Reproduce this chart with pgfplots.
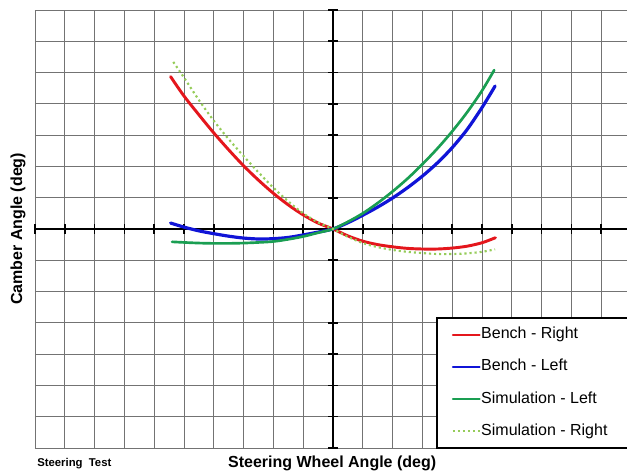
\documentclass[border=0pt]{standalone}
\usepackage{fontspec}
\setmainfont{Liberation Sans}
\usepackage{pgfplots}
\pgfplotsset{compat=1.18}

\definecolor{benchred}{RGB}{228,22,28}
\definecolor{benchblue}{RGB}{16,20,215}
\definecolor{simgreen}{RGB}{26,158,82}
\definecolor{simlight}{RGB}{150,204,90}

\begin{document}
\begin{tikzpicture}
\begin{axis}[
  scale only axis,
  width=444pt, height=328.5pt,
  xmin=-10, xmax=9.866, ymin=-7, ymax=7,
  axis x line=middle, axis y line=middle,
  axis line style={-, black, line width=1.5pt},
  xtick={-10,...,9}, ytick={-7,...,7},
  xticklabel=\empty, yticklabel=\empty,
  tick align=center, major tick length=7pt,
  tick style={black, line width=1.2pt},
  grid=major,
  major grid style={black!55, line width=0.7pt},
  legend cell align=left,
  legend style={
    at={(axis cs:3.46,-2.81)}, anchor=north west,
    draw=black, line width=1.5pt, fill=white,
    inner xsep=11pt, inner ysep=6.5pt,
    row sep=12.2pt,
    font=\fontsize{12}{14}\selectfont,
    nodes={inner xsep=0.5pt, inner ysep=0pt, text height=9pt, text depth=3pt},
  },
  legend image code/.code={\draw[#1, line width=1.6pt] (0pt,0pt) -- (20pt,0pt);},
  every axis plot/.append style={smooth, line join=round, line cap=round},
]
% bench measurements, right wheel
\addplot[benchred, line width=2.2pt] coordinates {
  (-5.45,4.87) (-5.0,4.25) (-4.5,3.65) (-4.0,3.07) (-3.5,2.53) (-3.0,2.02)
  (-2.5,1.56) (-2.0,1.14) (-1.5,0.77) (-1.0,0.45) (-0.5,0.19) (0,0)
  (0.5,-0.22) (1.0,-0.39) (1.5,-0.50) (2.0,-0.57) (2.5,-0.62) (3.0,-0.64)
  (3.5,-0.64) (4.0,-0.61) (4.5,-0.55) (5.0,-0.44) (5.45,-0.28)
};
\addlegendentry{\makebox[120pt][l]{Bench - Right}}
% bench measurements, left wheel
\addplot[benchblue, line width=2.4pt] coordinates {
  (-5.45,0.19) (-5.0,0.06) (-4.5,-0.06) (-4.0,-0.15) (-3.5,-0.23) (-3.0,-0.29)
  (-2.5,-0.32) (-2.0,-0.31) (-1.5,-0.27) (-1.0,-0.19) (-0.5,-0.10) (0,0)
  (0.5,0.20) (1.0,0.44) (1.5,0.70) (2.0,0.99) (2.5,1.32) (3.0,1.69)
  (3.5,2.11) (4.0,2.60) (4.5,3.18) (5.0,3.88) (5.44,4.57)
};
\addlegendentry{Bench - Left}
% simulation, left wheel
\addplot[simgreen, line width=2pt] coordinates {
  (-5.40,-0.41) (-5.0,-0.43) (-4.5,-0.45) (-4.0,-0.46) (-3.5,-0.46) (-3.0,-0.45)
  (-2.5,-0.43) (-2.0,-0.40) (-1.5,-0.33) (-1.0,-0.24) (-0.5,-0.12) (0,0)
  (0.5,0.23) (1.0,0.50) (1.5,0.83) (2.0,1.20) (2.5,1.61) (3.0,2.07)
  (3.5,2.57) (4.0,3.12) (4.5,3.73) (5.0,4.42) (5.41,5.08)
};
\addlegendentry{Simulation - Left}
% simulation, right wheel
\addplot[simlight, line width=1.6pt, dash pattern=on 1.6pt off 2.2pt, line cap=butt] coordinates {
  (-5.36,5.34) (-5.0,4.84) (-4.5,4.12) (-4.0,3.46) (-3.5,2.87) (-3.0,2.33)
  (-2.5,1.81) (-2.0,1.32) (-1.5,0.88) (-1.0,0.50) (-0.5,0.21) (0,0)
  (0.5,-0.25) (1.0,-0.45) (1.5,-0.58) (2.0,-0.67) (2.5,-0.73) (3.0,-0.77)
  (3.5,-0.80) (4.0,-0.80) (4.5,-0.78) (5.0,-0.73) (5.44,-0.65)
};
\addlegendentry{Simulation - Right}

\coordinate (SW) at (rel axis cs:0,0);
\coordinate (NE) at (rel axis cs:1,1);
\coordinate (BC) at (rel axis cs:0.502,0);
\coordinate (LC) at (rel axis cs:0,0.5);
\end{axis}
\node[font=\bfseries\fontsize{12}{14}\selectfont] at ([yshift=-11.5pt]BC) {Steering Wheel Angle (deg)};
\node[font=\bfseries\fontsize{12}{14}\selectfont, rotate=90] at ([xshift=-12.75pt]LC) {Camber Angle (deg)};
\node[font=\bfseries\fontsize{8.5}{10}\selectfont, anchor=west, inner sep=0pt] at ([xshift=1.5pt,yshift=-11.5pt]SW) {Steering\ \ Test};
\pgfresetboundingbox
\useasboundingbox ([xshift=-26.25pt,yshift=-18.75pt]SW) rectangle ([yshift=7.5pt]NE);
\end{tikzpicture}
\end{document}
